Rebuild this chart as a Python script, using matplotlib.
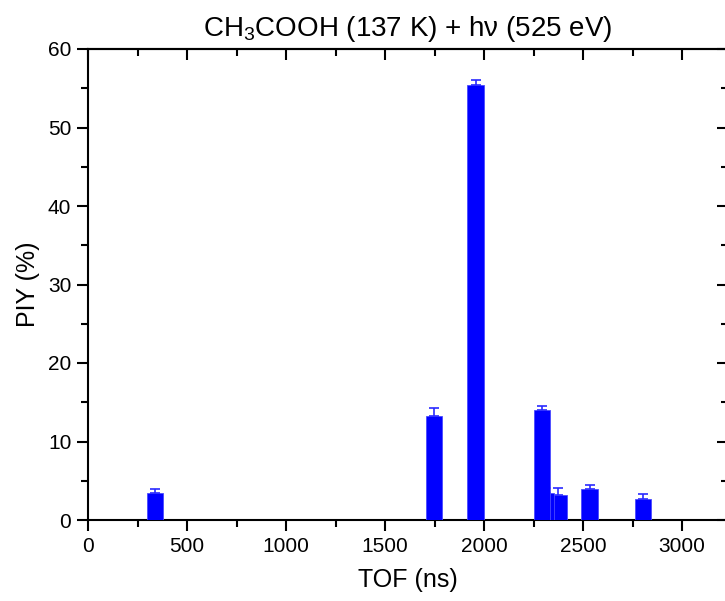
import matplotlib
matplotlib.use("Agg")
import matplotlib.pyplot as plt
from matplotlib.ticker import MultipleLocator

plt.rcParams['font.family'] = ['Liberation Sans', 'DejaVu Sans']
plt.rcParams['mathtext.fontset'] = 'custom'
plt.rcParams['mathtext.rm'] = 'Liberation Sans'
plt.rcParams['mathtext.it'] = 'Liberation Sans:italic'
plt.rcParams['mathtext.bf'] = 'Liberation Sans:bold'

tof = [338, 1747, 1958, 2293, 2312, 2374, 2533, 2803]
piy = [3.45, 13.2, 55.4, 13.95, 3.5, 3.15, 4.0, 2.7]
err = [0.55, 1.05, 0.6, 0.6, 0.55, 0.95, 0.4, 0.6]
zord = [3, 3, 3, 5, 4, 3, 3, 3]
bar_width = 85

fig = plt.figure(figsize=(7.25, 6.01), dpi=100)
ax = fig.add_axes([88/725, 1 - 520/601, 639.6/725, 471/601])

for x, y, e, z in zip(tof, piy, err, zord):
    ax.bar(x, y, width=bar_width, color='#0000ff', edgecolor='#4a4aff', linewidth=0.6, zorder=z)
    ax.errorbar(x, y, yerr=[[0], [e]], fmt='none', ecolor='#2a2aff', elinewidth=1.2,
                capsize=3.4, capthick=1.2, zorder=z)

ax.set_xlim(0, 3230)
ax.set_ylim(0, 60)
ax.xaxis.set_major_locator(MultipleLocator(500))
ax.xaxis.set_minor_locator(MultipleLocator(250))
ax.yaxis.set_major_locator(MultipleLocator(10))
ax.yaxis.set_minor_locator(MultipleLocator(5))

for s in ax.spines.values():
    s.set_linewidth(1.5)

ax.tick_params(axis='both', which='major', direction='out', length=8, width=1.5, labelsize=15, pad=4)
ax.tick_params(axis='both', which='minor', direction='out', length=5, width=1.5)
ax.tick_params(which='both', top=False, right=False)

# inward ticks on top and right
ax2 = ax.secondary_xaxis('top')
ax2.xaxis.set_major_locator(MultipleLocator(500))
ax2.xaxis.set_minor_locator(MultipleLocator(250))
ax2.tick_params(which='major', direction='in', length=8, width=1.5, labeltop=False)
ax2.tick_params(which='minor', direction='in', length=5, width=1.5)
ax2.spines['top'].set_linewidth(1.5)
ax3 = ax.secondary_yaxis('right')
ax3.yaxis.set_major_locator(MultipleLocator(10))
ax3.yaxis.set_minor_locator(MultipleLocator(5))
ax3.tick_params(which='major', direction='in', length=8, width=1.5, labelright=False)
ax3.tick_params(which='minor', direction='in', length=5, width=1.5)

ax.set_xlabel('TOF (ns)', fontsize=18, labelpad=9)
ax.set_ylabel('PIY (%)', fontsize=18, labelpad=6)
ax.set_title('CH$_3$COOH (137 K) + hν (525 eV)', fontsize=20, pad=9)

fig.savefig('out.png', dpi=100)
